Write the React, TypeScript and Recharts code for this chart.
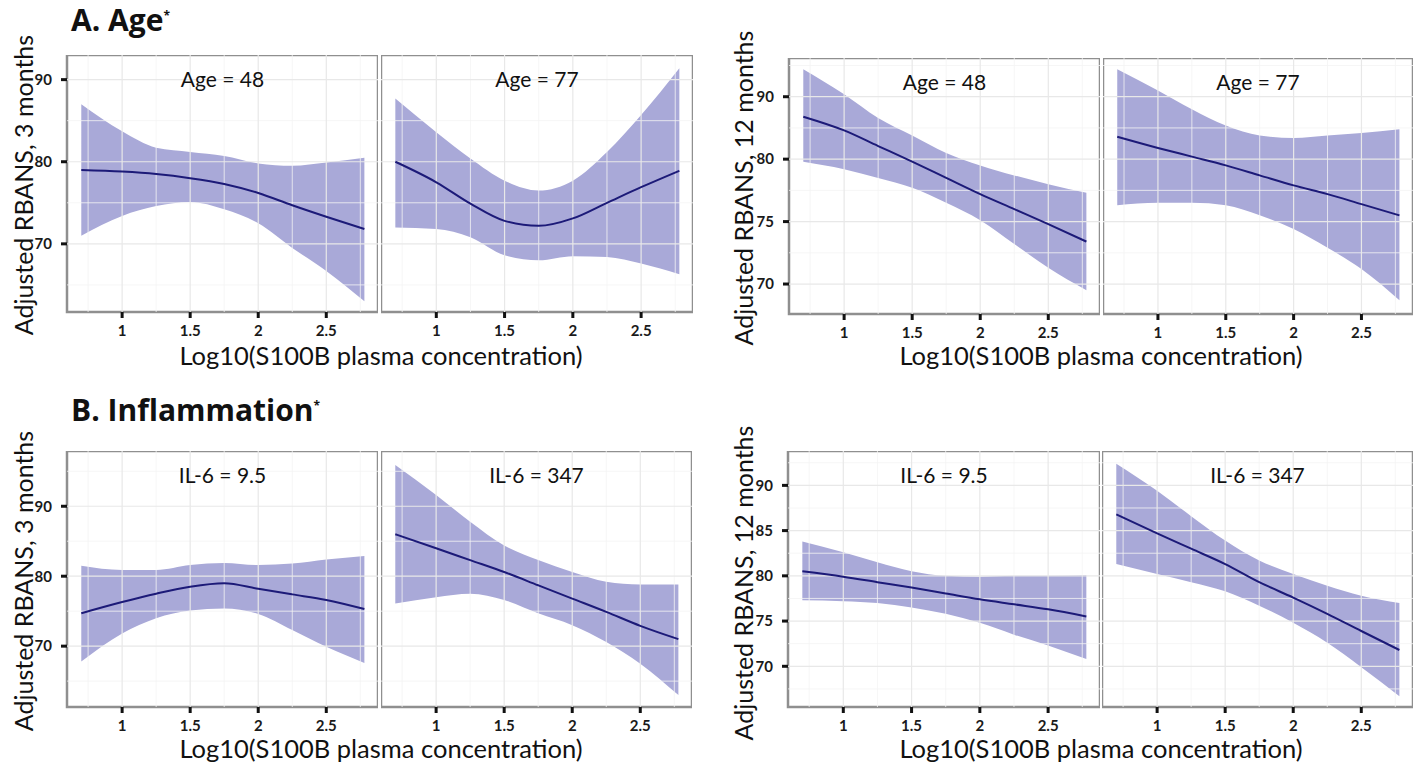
import {
  Area,
  ComposedChart,
  Line,
  ReferenceArea,
  ReferenceLine,
  XAxis,
  YAxis,
} from 'recharts';

// shared x grid (log10 S100B)
const xs = [0.7, 1.0, 1.25, 1.5, 1.75, 2.0, 2.25, 2.5, 2.78];
const xTicks = [1, 1.5, 2, 2.5];
const xMinor = [0.75, 1.25, 1.75, 2.25, 2.75];
const xDomain: [number, number] = [0.595, 2.88];

// A. Age, RBANS at 3 months
const age48m3Fit = [79.0, 78.8, 78.5, 78.0, 77.3, 76.2, 74.7, 73.3, 71.8];
const age48m3Hi = [87.0, 83.7, 81.7, 81.2, 80.7, 79.8, 79.5, 79.9, 80.5];
const age48m3Lo = [71.0, 73.4, 74.6, 75.1, 74.2, 72.5, 69.5, 66.7, 63.0];
const age77m3Fit = [80.0, 77.5, 74.9, 72.8, 72.2, 73.1, 75.0, 76.9, 78.9];
const age77m3Hi = [87.7, 83.6, 80.4, 77.7, 76.5, 77.7, 81.2, 85.7, 91.4];
const age77m3Lo = [72.0, 71.8, 70.8, 68.6, 68.0, 68.5, 68.4, 67.6, 66.3];

// A. Age, RBANS at 12 months
const age48m12Fit = [83.4, 82.3, 81.05, 79.8, 78.5, 77.2, 76.0, 74.8, 73.4];
const age48m12Hi = [87.2, 85.2, 83.3, 81.9, 80.5, 79.5, 78.7, 78.0, 77.3];
const age48m12Lo = [79.8, 79.2, 78.5, 77.7, 76.5, 75.1, 73.2, 71.3, 69.5];
const age77m12Fit = [81.8, 80.9, 80.2, 79.5, 78.7, 77.9, 77.2, 76.4, 75.5];
const age77m12Hi = [87.2, 85.5, 84.0, 82.7, 81.9, 81.7, 81.9, 82.1, 82.4];
const age77m12Lo = [76.3, 76.5, 76.5, 76.3, 75.5, 74.4, 72.9, 71.2, 68.7];

// B. Inflammation, RBANS at 3 months
const il6LowM3Fit = [74.7, 76.3, 77.5, 78.5, 79.0, 78.2, 77.4, 76.6, 75.3];
const il6LowM3Hi = [81.5, 80.9, 80.9, 81.6, 81.9, 81.6, 81.8, 82.4, 82.9];
const il6LowM3Lo = [67.8, 71.8, 74.0, 75.1, 75.4, 74.6, 72.3, 69.9, 67.6];
const il6HighM3Fit = [86.0, 84.0, 82.3, 80.6, 78.7, 76.8, 74.9, 72.9, 71.0];
const il6HighM3Hi = [95.9, 91.6, 87.8, 84.4, 82.3, 80.6, 79.2, 78.8, 78.8];
const il6HighM3Lo = [76.1, 77.0, 77.5, 76.6, 74.7, 73.0, 70.6, 67.5, 63.0];

// B. Inflammation, RBANS at 12 months
const il6LowM12Fit = [80.5, 79.9, 79.3, 78.7, 78.05, 77.4, 76.85, 76.3, 75.5];
const il6LowM12Hi = [83.8, 82.6, 81.5, 80.5, 80.0, 79.9, 80.0, 80.0, 80.1];
const il6LowM12Lo = [77.3, 77.2, 77.0, 76.5, 75.8, 74.8, 73.5, 72.3, 70.8];
const il6HighM12Fit = [86.8, 84.7, 83.0, 81.3, 79.3, 77.6, 75.8, 73.9, 71.8];
const il6HighM12Hi = [92.4, 89.4, 86.6, 83.9, 81.7, 80.2, 78.9, 77.8, 77.0];
const il6HighM12Lo = [81.3, 80.2, 79.3, 78.3, 76.7, 74.8, 72.6, 69.9, 66.7];

// y axes
const yTicksA3 = [70, 80, 90];
const yMinorA3 = [65, 75, 85];
const yTicksA12 = [70, 75, 80, 85];
const yTickLabelsA12 = ['70', '75', '80', '90'];
const yMinorA12 = [67.5, 72.5, 77.5, 82.5, 87.5];
const yTicksB3 = [70, 80, 90];
const yMinorB3 = [65, 75, 85, 95];
const yTicksB12 = [70, 75, 80, 85, 90];
const yMinorB12 = [67.5, 72.5, 77.5, 82.5, 87.5, 92.5];

const FONT = 'Lato, "Open Sans", sans-serif';
const RIBBON = '#a9a9d8';
const FIT = '#1c1a78';
const AXW = 40;
const AXH = 26;
const TICK_LEN = 6;
const TICK = { fill: '#1a1a1a', fontSize: 15, fontWeight: 700, fontFamily: FONT };

function rows(fit: number[], lo: number[], hi: number[]) {
  return xs.map((x, i) => ({ x, fit: fit[i], band: [lo[i], hi[i]] }));
}

type FacetProps = {
  left: number;
  top: number;
  width: number;
  height: number;
  showY: boolean;
  label: string;
  data: { x: number; fit: number; band: number[] }[];
  yDomain: [number, number];
  yTicks: number[];
  yMinor: number[];
  yLabels?: string[];
};

function Facet(p: FacetProps) {
  const yw = p.showY ? AXW : 0;
  const fmt = (v: number) => {
    if (!p.yLabels) return String(v);
    const i = p.yTicks.indexOf(v);
    return i >= 0 ? p.yLabels[i] : String(v);
  };
  // tick mark length converted to data units
  const dy = ((p.yDomain[1] - p.yDomain[0]) / p.height) * TICK_LEN;
  const dx = ((xDomain[1] - xDomain[0]) / p.width) * TICK_LEN;
  return (
    <div style={{ position: 'absolute', left: p.left - yw, top: p.top }}>
      <ComposedChart
        width={p.width + yw}
        height={p.height + AXH}
        data={p.data}
        margin={{ top: 0, right: 0, bottom: 0, left: 0 }}
      >
        <XAxis
          type="number"
          dataKey="x"
          domain={xDomain}
          ticks={xTicks}
          allowDataOverflow
          height={AXH}
          axisLine={false}
          tickLine={false}
          tickMargin={7}
          tick={TICK}
        />
        <YAxis
          type="number"
          domain={p.yDomain}
          ticks={p.yTicks}
          allowDataOverflow
          hide={!p.showY}
          width={AXW}
          axisLine={false}
          tickLine={false}
          tickMargin={9}
          tickFormatter={fmt}
          tick={TICK}
        />
        {xMinor.map((v) => (
          <ReferenceLine key={'xm' + v} x={v} stroke="#f4f4f4" strokeWidth={0.8} />
        ))}
        {p.yMinor.map((v) => (
          <ReferenceLine key={'ym' + v} y={v} stroke="#f4f4f4" strokeWidth={0.8} />
        ))}
        {xTicks.map((v) => (
          <ReferenceLine key={'xg' + v} x={v} stroke="#e8e8e8" strokeWidth={1.2} />
        ))}
        {p.yTicks.map((v) => (
          <ReferenceLine key={'yg' + v} y={v} stroke="#e8e8e8" strokeWidth={1.2} />
        ))}
        <Area
          type="monotone"
          dataKey="band"
          fill={RIBBON}
          fillOpacity={1}
          stroke="none"
          isAnimationActive={false}
        />
        <Line
          type="monotone"
          dataKey="fit"
          stroke={FIT}
          strokeWidth={2}
          dot={false}
          isAnimationActive={false}
        />
        <ReferenceArea
          x1={xDomain[0]}
          x2={xDomain[1]}
          y1={p.yDomain[0]}
          y2={p.yDomain[1]}
          fill="none"
          fillOpacity={0}
          stroke="#8f8f8f"
          strokeWidth={2.5}
          strokeOpacity={1}
          label={{
            value: p.label,
            position: 'insideTop',
            offset: 17,
            fill: '#111',
            fontSize: 21,
            fontFamily: FONT,
          }}
        />
        {xTicks.map((v) => (
          <ReferenceLine
            key={'xt' + v}
            segment={[
              { x: v, y: p.yDomain[0] },
              { x: v, y: p.yDomain[0] - dy },
            ]}
            stroke="#111"
            strokeWidth={3}
            ifOverflow="visible"
          />
        ))}
        {p.showY &&
          p.yTicks.map((v) => (
            <ReferenceLine
              key={'yt' + v}
              segment={[
                { x: xDomain[0] - dx, y: v },
                { x: xDomain[0], y: v },
              ]}
              stroke="#111"
              strokeWidth={3}
              ifOverflow="visible"
            />
          ))}
      </ComposedChart>
    </div>
  );
}

function Text({
  x,
  y,
  children,
  size,
  rotate,
}: {
  x: number;
  y: number;
  children: React.ReactNode;
  size: number;
  rotate?: boolean;
}) {
  return (
    <div
      style={{
        position: 'absolute',
        left: x,
        top: y,
        transform: `translate(-50%, -50%)${rotate ? ' rotate(-90deg)' : ''}`,
        whiteSpace: 'nowrap',
        fontSize: size,
        fontFamily: FONT,
        lineHeight: 1,
        color: '#111',
      }}
    >
      {children}
    </div>
  );
}

const X_TITLE = 'Log10(S100B plasma concentration)';
const titleStyle = {
  position: 'absolute' as const,
  left: 71,
  fontFamily: '"Open Sans", Lato, sans-serif',
  fontWeight: 700,
  fontSize: 30,
  lineHeight: 1,
  color: '#111',
};

export default function App() {
  const dA3: [number, number] = [61.7, 93.0];
  const dA12: [number, number] = [67.6, 88.1];
  const dB3: [number, number] = [61.3, 97.9];
  const dB12: [number, number] = [65.5, 93.8];
  return (
    <div style={{ position: 'relative', width: 1424, height: 767, background: '#fff', overflow: 'hidden' }}>
      <style>{'body{margin:0}'}</style>

      <div style={{ ...titleStyle, top: 5 }}>
        A. Age<sup style={{ fontSize: 12 }}>*</sup>
      </div>
      <div style={{ ...titleStyle, top: 395 }}>
        B. Inflammation<sup style={{ fontSize: 12 }}>*</sup>
      </div>

      {/* A, 3 months */}
      <Facet left={67} top={55} width={311} height={257} showY label="Age = 48"
        data={rows(age48m3Fit, age48m3Lo, age48m3Hi)} yDomain={dA3} yTicks={yTicksA3} yMinor={yMinorA3} />
      <Facet left={381} top={55} width={312} height={257} showY={false} label="Age = 77"
        data={rows(age77m3Fit, age77m3Lo, age77m3Hi)} yDomain={dA3} yTicks={yTicksA3} yMinor={yMinorA3} />
      <Text x={23} y={185} size={25} rotate>Adjusted RBANS, 3 months</Text>
      <Text x={381} y={356} size={25.5}>{X_TITLE}</Text>

      {/* A, 12 months */}
      <Facet left={789} top={58} width={311} height={256} showY label="Age = 48"
        data={rows(age48m12Fit, age48m12Lo, age48m12Hi)} yDomain={dA12} yTicks={yTicksA12}
        yMinor={yMinorA12} yLabels={yTickLabelsA12} />
      <Facet left={1103} top={58} width={310} height={256} showY={false} label="Age = 77"
        data={rows(age77m12Fit, age77m12Lo, age77m12Hi)} yDomain={dA12} yTicks={yTicksA12}
        yMinor={yMinorA12} yLabels={yTickLabelsA12} />
      <Text x={743} y={188} size={25} rotate>Adjusted RBANS, 12 months</Text>
      <Text x={1101} y={356} size={25.5}>{X_TITLE}</Text>

      {/* B, 3 months */}
      <Facet left={67} top={451} width={311} height={256} showY label="IL-6 = 9.5"
        data={rows(il6LowM3Fit, il6LowM3Lo, il6LowM3Hi)} yDomain={dB3} yTicks={yTicksB3} yMinor={yMinorB3} />
      <Facet left={381} top={451} width={311} height={256} showY={false} label="IL-6 = 347"
        data={rows(il6HighM3Fit, il6HighM3Lo, il6HighM3Hi)} yDomain={dB3} yTicks={yTicksB3} yMinor={yMinorB3} />
      <Text x={23} y={581} size={25} rotate>Adjusted RBANS, 3 months</Text>
      <Text x={381} y={749} size={25.5}>{X_TITLE}</Text>

      {/* B, 12 months */}
      <Facet left={788} top={451} width={312} height={256} showY label="IL-6 = 9.5"
        data={rows(il6LowM12Fit, il6LowM12Lo, il6LowM12Hi)} yDomain={dB12} yTicks={yTicksB12} yMinor={yMinorB12} />
      <Facet left={1102} top={451} width={311} height={256} showY={false} label="IL-6 = 347"
        data={rows(il6HighM12Fit, il6HighM12Lo, il6HighM12Hi)} yDomain={dB12} yTicks={yTicksB12} yMinor={yMinorB12} />
      <Text x={743} y={583} size={25} rotate>Adjusted RBANS, 12 months</Text>
      <Text x={1101} y={749} size={25.5}>{X_TITLE}</Text>
    </div>
  );
}
